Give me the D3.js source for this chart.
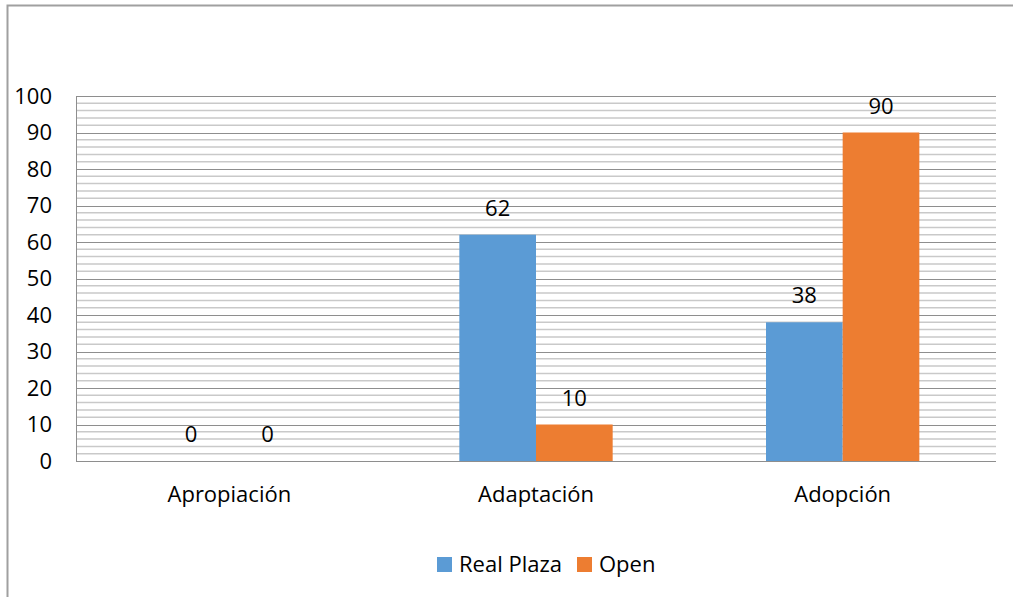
<!DOCTYPE html>
<html><head><meta charset="utf-8">
<script src="https://cdn.jsdelivr.net/npm/d3@7"></script>
<style>body{margin:0;background:#fff}svg{display:block;font-family:"Open Sans",sans-serif}</style>
</head><body><svg id="c" width="1013" height="597"></svg>
<script>
const categories = ["Apropiación", "Adaptación", "Adopción"];
const seriesNames = ["Real Plaza", "Open"];
const realPlaza = [0, 62, 38];
const open = [0, 10, 90];
const yTicks = [0,10,20,30,40,50,60,70,80,90,100];
const colors = ["#5B9BD5", "#ED7D31"];
const FS = 22;
const FF = "'Open Sans',sans-serif";

const svg = d3.select("#c");
const m = {l:76, r:996, t:96, b:461};
svg.append("path").attr("d","M7.5,597 V5.5 H1013").attr("fill","none").attr("stroke","#a0a0a0").attr("stroke-width",2);

const x = d3.scaleBand().domain(categories).range([m.l, m.r]).paddingInner(0.5).paddingOuter(0.25);
const xs = d3.scaleBand().domain(seriesNames).range([0, x.bandwidth()]);
const y = d3.scaleLinear().domain([0,100]).range([m.b, m.t]);

const minor = d3.range(0, 101, 2).filter(v => v % 10 !== 0);
svg.append("g").selectAll("line").data(minor).join("line")
  .attr("x1", m.l).attr("x2", m.r).attr("y1", d=>y(d)).attr("y2", d=>y(d))
  .attr("stroke","#c9c9c9").attr("stroke-width",1.5);
svg.append("g").selectAll("line").data(yTicks).join("line")
  .attr("x1", m.l).attr("x2", m.r).attr("y1", d=>Math.round(y(d))+0.5).attr("y2", d=>Math.round(y(d))+0.5)
  .attr("stroke","#8e8e8e").attr("stroke-width",1.2);
svg.append("line").attr("x1", m.l+0.5).attr("x2", m.l+0.5).attr("y1", m.t).attr("y2", m.b).attr("stroke","#8e8e8e");

const yAxis = d3.axisLeft(y).tickValues(yTicks).tickSize(0).tickPadding(24);
const ga = svg.append("g").attr("transform",`translate(${m.l},0)`).call(yAxis);
ga.select(".domain").remove();
ga.selectAll("text").attr("font-size",FS).attr("fill","#000").attr("font-family",FF);

const xAxis = d3.axisBottom(x).tickSize(0).tickPadding(25);
const gx = svg.append("g").attr("transform",`translate(0,${m.b})`).call(xAxis);
gx.select(".domain").remove();
gx.selectAll("text").attr("font-size",FS).attr("fill","#000").attr("font-family",FF);

const data = categories.map((c,i)=>({c, vals:[realPlaza[i], open[i]]}));
const g = svg.append("g");
data.forEach(d=>{
  d.vals.forEach((v,j)=>{
    const bx = x(d.c) + xs(seriesNames[j]);
    g.append("rect").attr("x", bx).attr("width", xs.bandwidth()).attr("y", y(v)).attr("height", m.b - y(v)).attr("fill", colors[j]);
    g.append("text").attr("x", bx + xs.bandwidth()/2).attr("y", y(v) - 19).attr("text-anchor","middle")
      .attr("font-size",FS).attr("fill","#000").text(v);
  });
});

const leg = svg.append("g");
const lx = [437, 577];
seriesNames.forEach((s,j)=>{
  leg.append("rect").attr("x", lx[j]).attr("y", 557).attr("width",15).attr("height",15).attr("fill", colors[j]);
  leg.append("text").attr("x", lx[j]+22).attr("y", 572).attr("font-size",FS).attr("fill","#000").text(s);
});
</script></body></html>
